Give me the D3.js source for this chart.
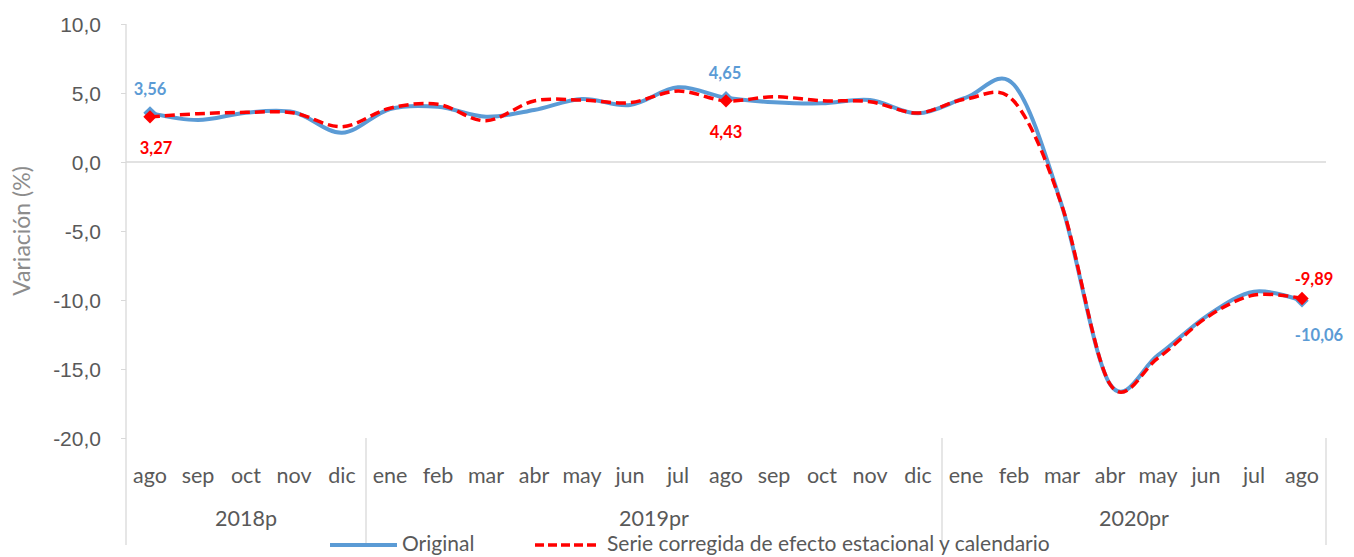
<!DOCTYPE html>
<html><head><meta charset="utf-8">
<script src="https://cdn.jsdelivr.net/npm/d3@7"></script>
<style>body{margin:0;background:#fff}svg{display:block;font-family:Lato,'Open Sans',sans-serif}</style>
</head><body><svg id="c" width="1354" height="557"></svg>
<script>
const months = ["ago","sep","oct","nov","dic","ene","feb","mar","abr","may","jun","jul","ago","sep","oct","nov","dic","ene","feb","mar","abr","may","jun","jul","ago"];
const years = [{label:"2018p",from:0,to:5},{label:"2019pr",from:5,to:17},{label:"2020pr",from:17,to:25}];
const original = [3.56,3.04,3.57,3.6,2.12,3.84,4.0,3.28,3.77,4.57,4.13,5.41,4.65,4.33,4.25,4.49,3.53,4.66,5.6,-3.2,-16.1,-14.0,-11.2,-9.4,-10.06];
const corregida = [3.27,3.5,3.6,3.55,2.56,3.9,4.18,2.99,4.42,4.49,4.3,5.14,4.43,4.73,4.44,4.37,3.55,4.57,4.4,-3.2,-16.1,-14.2,-11.3,-9.64,-9.89];
const yTicks = [10,5,0,-5,-10,-15,-20];
const markIdx = [0,12,24];

const svg = d3.select("#c");
const x = d3.scaleBand().domain(d3.range(months.length)).range([126,1326]);
const y = d3.scaleLinear().domain([-20,10]).range([438,24]);
const cx = i => x(i) + x.bandwidth()/2;
const fmt = v => d3.format(".1f")(v).replace(".",",").replace("−","-");
const fmt2 = v => d3.format(".2f")(v).replace(".",",").replace("−","-");
const gray = "#d9d9d9", txt = "#595959";

// y axis
const ya = svg.append("g").attr("transform","translate(126,0)")
  .call(d3.axisLeft(y).tickValues(yTicks).tickSize(5).tickPadding(20).tickFormat(fmt));
ya.select(".domain").remove();
ya.selectAll(".tick line").attr("stroke",gray);
ya.selectAll("text").attr("fill",txt).style("font-size","21px").attr("dy","0.35em");
svg.append("line").attr("x1",126).attr("x2",126).attr("y1",y(10)).attr("y2",545).attr("stroke",gray).attr("stroke-width",1.3);
// zero line
svg.append("line").attr("x1",126).attr("x2",1326).attr("y1",y(0)).attr("y2",y(0)).attr("stroke",gray).attr("stroke-width",1.5);
// separators + year labels
years.forEach(g=>{
  const xe = g.to===months.length ? 1326 : x(g.to);
  svg.append("line").attr("x1",xe).attr("x2",xe).attr("y1",y(-20)).attr("y2",545).attr("stroke",gray).attr("stroke-width",1.3);
  svg.append("text").attr("x",(x(g.from)+xe)/2).attr("y",526).attr("text-anchor","middle")
    .attr("fill",txt).style("font-size","21.5px").text(g.label);
});
// month labels
svg.append("g").selectAll("text").data(months).join("text")
  .attr("x",(d,i)=>cx(i)).attr("y",483).attr("text-anchor","middle").attr("fill",txt)
  .style("font-size","21.5px").text(d=>d);
// y title
svg.append("text").attr("transform","translate(30,231) rotate(-90)").attr("text-anchor","middle")
  .attr("fill","#8c8c8c").style("font-size","23px").text("Variación (%)");

const line = d3.line().x((d,i)=>cx(i)).y(d=>y(d)).curve(d3.curveCatmullRom.alpha(0));
svg.append("path").attr("d",line(original)).attr("fill","none").attr("stroke","#5B9BD5").attr("stroke-width",4);
svg.append("path").attr("d",line(corregida)).attr("fill","none").attr("stroke","#FF0000").attr("stroke-width",3.5).attr("stroke-dasharray","10,5");

const sq = d3.symbol().type(d3.symbolSquare).size(90)();
markIdx.forEach(i=>{
  svg.append("path").attr("d",sq).attr("transform",`translate(${cx(i)},${y(original[i])}) rotate(45)`).attr("fill","#5B9BD5");
});
markIdx.forEach(i=>{
  svg.append("path").attr("d",sq).attr("transform",`translate(${cx(i)},${y(corregida[i])}) rotate(45)`).attr("fill","#FF0000");
});
// data labels
const lab = (i,v,dx,dy,col)=>svg.append("text").attr("x",cx(i)+dx).attr("y",y(v)+dy).attr("text-anchor","middle")
  .attr("fill",col).style("font-size","16.5px").style("font-weight","bold").text(fmt2(v));
lab(0,original[0],0,-18,"#5B9BD5");
lab(0,corregida[0],6,37,"#FF0000");
lab(12,original[12],-1,-19,"#5B9BD5");
lab(12,corregida[12],0,37,"#FF0000");
lab(24,corregida[24],12,-13,"#FF0000");
lab(24,original[24],17,40,"#5B9BD5");

// legend
const lg = svg.append("g");
lg.append("line").attr("x1",330).attr("x2",397).attr("y1",545).attr("y2",545).attr("stroke","#5B9BD5").attr("stroke-width",4);
lg.append("text").attr("x",402).attr("y",551).attr("fill",txt).style("font-size","21px").text("Original");
lg.append("line").attr("x1",535).attr("x2",600).attr("y1",545).attr("y2",545).attr("stroke","#FF0000").attr("stroke-width",3.5).attr("stroke-dasharray","9,4");
lg.append("text").attr("x",607).attr("y",551).attr("fill",txt).style("font-size","21px").text("Serie corregida de efecto estacional y calendario");
</script></body></html>
